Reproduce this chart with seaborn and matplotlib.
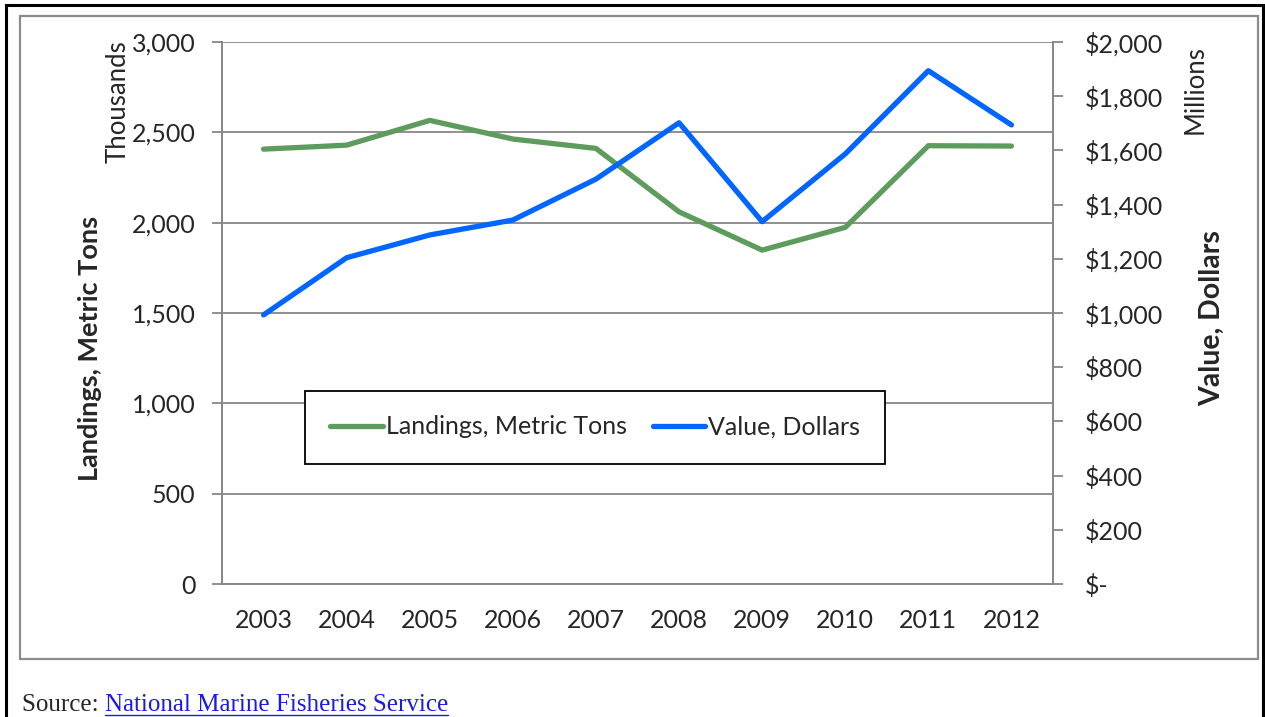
import matplotlib
matplotlib.use("Agg")
import matplotlib.pyplot as plt
import seaborn as sns
import pandas as pd
from matplotlib.patches import Rectangle
from matplotlib.lines import Line2D

# data
years = [2003, 2004, 2005, 2006, 2007, 2008, 2009, 2010, 2011, 2012]
landings = [2407, 2429, 2566, 2463, 2411, 2060, 1848, 1974, 2426, 2424]   # thousands of metric tons
value = [993, 1204, 1288, 1343, 1494, 1702, 1337, 1587, 1894, 1694]       # millions of dollars

left_ticks = [0, 500, 1000, 1500, 2000, 2500, 3000]
left_labels = ["0", "500", "1,000", "1,500", "2,000", "2,500", "3,000"]
right_ticks = [0, 200, 400, 600, 800, 1000, 1200, 1400, 1600, 1800, 2000]
right_labels = ["$-", "$200", "$400", "$600", "$800", "$1,000", "$1,200",
                "$1,400", "$1,600", "$1,800", "$2,000"]

df = pd.DataFrame({"Year": years, "Landings": landings, "Value": value})

sns.set_style("white")
plt.rcParams["font.family"] = ["Lato", "DejaVu Sans"]

GREEN = "#5E9C5E"
BLUE = "#0066FF"
GRAY = "#878787"
W, H = 1265, 717
FS = 18

fig = plt.figure(figsize=(W / 100, H / 100), dpi=100)

# frames around the chart
fig.patches.append(Rectangle((6 / W, -0.05), 1257 / W, 1.05 - 5 / H, transform=fig.transFigure,
                             fill=False, edgecolor="black", linewidth=2.2))
fig.patches.append(Rectangle((20 / W, 1 - 659 / H), 1238 / W, 643 / H, transform=fig.transFigure,
                             fill=False, edgecolor="#8C8C8C", linewidth=1.6))

ax = fig.add_axes([222 / W, 1 - 584 / H, 831 / W, 542 / H])
ax2 = ax.twinx()

sns.lineplot(data=df, x="Year", y="Landings", ax=ax, color=GREEN, linewidth=3.8,
             label="Landings, Metric Tons", legend=False)
sns.lineplot(data=df, x="Year", y="Value", ax=ax2, color=BLUE, linewidth=3.8,
             label="Value, Dollars", legend=False)

ax.set_xlim(years[0] - 0.5, years[-1] + 0.5)
ax.set_ylim(0, 3000)
ax2.set_ylim(0, 2000)

ax.set_xticks(years)
ax.set_xticklabels([str(y) for y in years])
ax.set_xticks([y - 0.5 for y in years] + [years[-1] + 0.5], minor=True)
ax.tick_params(axis="x", which="major", length=0, pad=18, labelsize=FS)
ax.tick_params(axis="x", which="minor", length=8, width=1.3, color=GRAY, direction="out")

ax.set_yticks(left_ticks)
ax.set_yticklabels(left_labels)
ax.tick_params(axis="y", length=7, width=1.3, color=GRAY, direction="out", pad=12, labelsize=FS,
               left=True)
ax2.set_yticks(right_ticks)
ax2.set_yticklabels(right_labels)
ax2.tick_params(axis="y", length=7, width=1.3, color=GRAY, direction="out", pad=16, labelsize=FS,
                right=True)
for lab in ax2.get_yticklabels():
    lab.set_horizontalalignment("left")

ax.grid(axis="y", color=GRAY, linewidth=1.3)
ax.grid(axis="x", visible=False)
ax2.grid(False)
ax.set_xlabel("")
ax.set_ylabel("")
ax2.set_ylabel("")
for a in (ax, ax2):
    a.spines["top"].set_visible(False)
    for s in ("left", "right", "bottom"):
        a.spines[s].set_color(GRAY)
        a.spines[s].set_linewidth(1.3)

# axis titles
fig.text(90 / W, 1 - 348 / H, "Landings, Metric Tons", rotation=90, ha="center", va="center",
         fontsize=19.5, fontweight="bold")
fig.text(1212 / W, 1 - 318 / H, "Value, Dollars", rotation=90, ha="center", va="center",
         fontsize=20.5, fontweight="bold")
fig.text(118 / W, 1 - 40 / H, "Thousands", rotation=90, ha="center", va="top", fontsize=18.5)
fig.text(1195 / W, 1 - 45 / H, "Millions", rotation=90, ha="center", va="top", fontsize=18.5)

# legend
handles = [Line2D([], [], color=GREEN, linewidth=3.8), Line2D([], [], color=BLUE, linewidth=3.8)]
leg = ax2.legend(handles, ["Landings, Metric Tons", "Value, Dollars"], ncol=2,
                 loc="center", bbox_to_anchor=((305 - 222) / 831, (584 - 469) / 542,
                                               580 / 831, 84 / 542),
                 mode="expand", fontsize=FS, frameon=True, fancybox=False,
                 edgecolor="black", facecolor="white", framealpha=1,
                 handlelength=2.1, handletextpad=0.12, columnspacing=0.9, borderpad=1.0,
                 borderaxespad=0)
leg.get_frame().set_linewidth(1.3)

# source line
t1 = fig.text(22 / W, 1 - 711 / H, "Source: ", family="Liberation Serif", fontsize=18, va="baseline")
fig.canvas.draw()
r = fig.canvas.get_renderer()
bb = t1.get_window_extent(r)
t2 = fig.text(bb.x1 / W, 1 - 711 / H, "National Marine Fisheries Service",
              family="Liberation Serif", fontsize=18, va="baseline", color="#1A1AE6")
bb2 = t2.get_window_extent(r)
fig.lines.append(Line2D([bb2.x0 / W, bb2.x1 / W], [(bb2.y0 + 1) / H, (bb2.y0 + 1) / H],
                        transform=fig.transFigure, color="#1A1AE6", linewidth=1))

fig.savefig("out.png", dpi=100)
